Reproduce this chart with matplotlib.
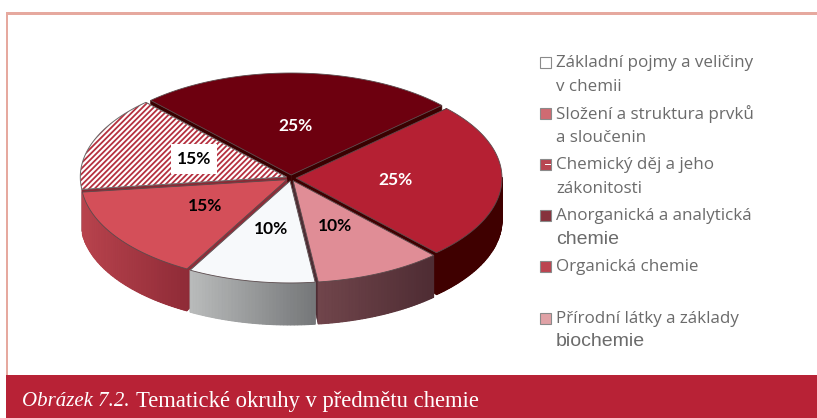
import numpy as np
import matplotlib
matplotlib.use('Agg')
import matplotlib.pyplot as plt
from matplotlib.patches import Polygon, Rectangle
from matplotlib.colors import to_rgb

# data
categories = ['Základní pojmy a veličiny\nv chemii',
              'Složení a struktura prvků\na sloučenin',
              'Chemický děj a jeho\nzákonitosti',
              'Anorganická a analytická\nchemie',
              'Organická chemie',
              'Přírodní látky a základy\nbiochemie']
values = [10, 15, 15, 25, 25, 10]
caption_italic = 'Obrázek 7.2.'
caption_rest = 'Tematické okruhy v předmětu chemie'

# styles
top_colors = ['#f7f9fb', '#d44f59', '#ffffff', '#6d000f', '#b52033', '#e08d96']
wall_left = ['#b9bbbb', '#b8434d', '#8a2a35', '#3a0000', '#3f0000', '#70454b']
wall_right = ['#747678', '#8f2b37', '#8a2a35', '#3a0000', '#3f0000', '#4e2c33']
text_colors = ['black', 'black', 'black', 'white', 'white', 'black']
swatch_colors = ['#ffffff', '#cf6b72', '#b84651', '#86323c', '#bc4450', '#e0a2a6']
crimson = '#b82236'

cx, cy, rx, ry, depth, explode = 291, 178, 206, 102, 42, 5
start_angle = -83

plt.rcParams['hatch.linewidth'] = 1.3
fig = plt.figure(figsize=(8.17, 4.18), dpi=100)
ax = fig.add_axes([0, 0, 1, 1])
ax.set_xlim(0, 817)
ax.set_ylim(418, 0)
ax.axis('off')

# frame and caption bar
ax.add_patch(Rectangle((6, 12), 811, 2.5, color='#e6a99f', lw=0))
ax.add_patch(Rectangle((6, 12), 2.5, 364, color='#e6a99f', lw=0))
ax.add_patch(Rectangle((6, 375), 811, 43, color=crimson, lw=0))
ax.text(22, 401, caption_italic, family='Liberation Serif', style='italic',
        fontsize=15, color='white', va='center', ha='left')
ax.text(136, 401, caption_rest, family='Liberation Serif', fontsize=16.3,
        color='white', va='center', ha='left')

# slices, going clockwise from start_angle
sl = []
a = start_angle
for i, v in enumerate(values):
    a2 = a - v * 3.6
    sl.append((i, a, a2, (a + a2) / 2))
    a = a2


def pts(ang, ox, oy, dy=0):
    t = np.radians(ang)
    return np.column_stack([cx + ox + rx * np.cos(t), cy + oy - ry * np.sin(t) + dy])


# back slices first
for i, a1, a2, mid in sorted(sl, key=lambda s: -np.sin(np.radians(s[3]))):
    m = np.radians(mid)
    ox = explode * np.cos(m)
    oy = -explode * 0.6 * np.sin(m)
    apex = np.array([cx + ox, cy + oy])
    down = np.array([0, depth])
    # radial faces
    for e in (a1, a2):
        p = pts(np.array([e]), ox, oy)[0]
        ax.add_patch(Polygon([apex, p, p + down, apex + down], closed=True,
                             fc=wall_right[i], ec=wall_right[i], lw=0.5, zorder=2))
    # outer wall with a left to right gradient, only what faces the viewer
    angs = np.linspace(a2, a1, int(a1 - a2) + 2)
    angs = angs[np.sin(np.radians(angs)) < 0.02]
    if i != 2 and len(angs) > 1:
        x_a = pts(angs, ox, oy)
        xmin, xmax = x_a[:, 0].min(), x_a[:, 0].max()
        c1, c2 = np.array(to_rgb(wall_left[i])), np.array(to_rgb(wall_right[i]))
        ax.add_patch(Polygon(np.vstack([x_a, (x_a + down)[::-1]]), closed=True,
                             fc=(c1 + c2) / 2, ec='none', zorder=2))
        for k in range(len(angs) - 1):
            f = (x_a[k, 0] - xmin) / max(xmax - xmin, 1)
            col = c1 + (c2 - c1) * f
            ax.add_patch(Polygon([x_a[k], x_a[k + 1], x_a[k + 1] + down, x_a[k] + down],
                                 closed=True, fc=col, ec=col, lw=0.8, zorder=2))
    # top face
    arc = pts(np.linspace(a1, a2, 80), ox, oy)
    verts = np.vstack([apex, arc])
    if i == 2:
        ax.add_patch(Polygon(verts, closed=True, fc='white', ec='#b5303f', hatch='//////',
                             lw=0, zorder=3))
        ax.add_patch(Polygon(verts, closed=True, fill=False, ec='#6a6a6a', lw=0.7, zorder=3))
    else:
        ax.add_patch(Polygon(verts, closed=True, fc=top_colors[i], ec='#5a4a4c', lw=0.6, zorder=3))

# percent labels
label_xy = [(271, 229), (205, 206), (194, 159), (296, 126), (396, 180), (335, 226)]
for i, (x, y) in enumerate(label_xy):
    if i == 2:
        ax.add_patch(Rectangle((171, 144), 46, 30, color='white', lw=0, zorder=4))
    ax.text(x, y, '%d%%' % values[i], family='Lato', weight='bold', fontsize=12.5,
            color=text_colors[i], ha='center', va='center', zorder=5)

# legend
legend_y = [62, 113, 164, 215, 266, 318]
line_gap = [24, 24, 24, 24, 24, 23]
for i, lab in enumerate(categories):
    y = legend_y[i]
    ax.add_patch(Rectangle((540.5, y - 5), 10.5, 10.5, fc=swatch_colors[i], ec='#8a8a8a', lw=0.8))
    if i == 2:
        ax.add_patch(Rectangle((545.5, y - 0.3), 5.5, 1.6, color='white', lw=0, zorder=3))
    lines = lab.split('\n')
    ax.text(556, y + 1, lines[0], family='Open Sans', fontsize=12.25, color='#6b6b6b', va='center', ha='left')
    if len(lines) > 1:
        big = i in (3, 5)
        ax.text(556, y + 1 + line_gap[i], lines[1], family='Liberation Sans' if big else 'Open Sans',
                fontsize=14 if big else 12.25, color='#6b6b6b', va='center', ha='left')

fig.savefig('out.png', dpi=100)
